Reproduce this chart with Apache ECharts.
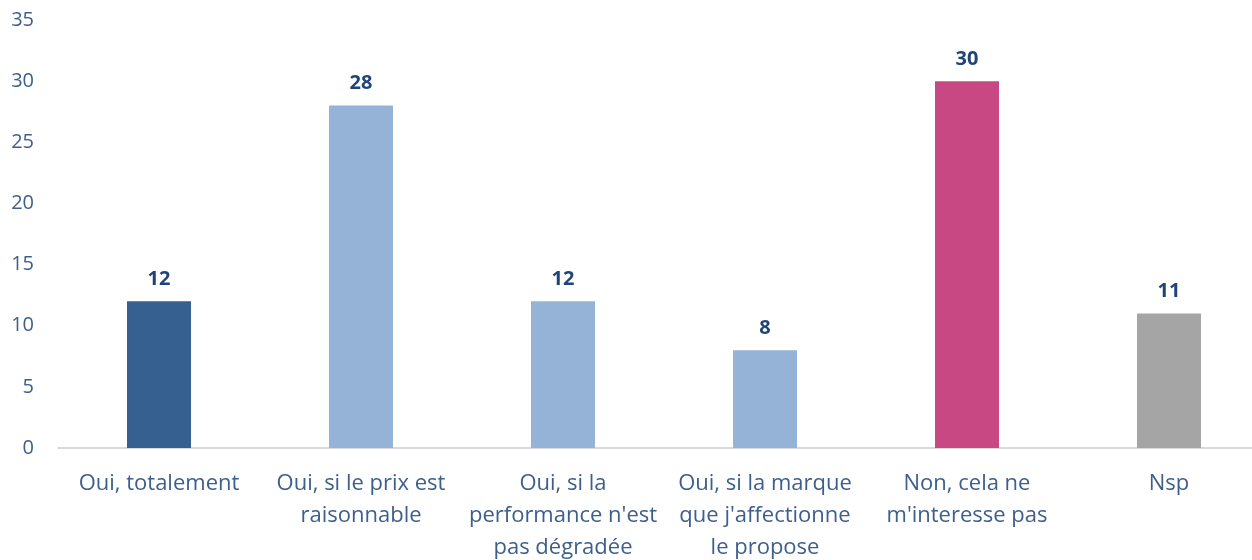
<!DOCTYPE html>
<html>
<head>
<meta charset="utf-8">
<script src="https://cdn.jsdelivr.net/npm/echarts@6/dist/echarts.min.js"></script>
<style>
  html, body { margin: 0; padding: 0; background: #ffffff; }
  #chart { width: 1252px; height: 560px; }
</style>
</head>
<body>
<div id="chart"></div>
<script>
// Answer categories (line breaks as shown under the axis)
const categories = [
  "Oui, totalement",
  "Oui, si le prix est\nraisonnable",
  "Oui, si la\nperformance n'est\npas dégradée",
  "Oui, si la marque\nque j'affectionne\nle propose",
  "Non, cela ne\nm'interesse pas",
  "Nsp"
];
// Share of respondents (%)
const values = [12, 28, 12, 8, 30, 11];
// Bar fill per category
const barColors = ["#36608f", "#95b3d7", "#95b3d7", "#95b3d7", "#c84883", "#a5a5a5"];
// Value axis ticks
const yTicks = [0, 5, 10, 15, 20, 25, 30, 35];

const FONT = "'Open Sans', 'Noto Sans', sans-serif";
const chart = echarts.init(document.getElementById('chart'));
chart.setOption({
  animation: false,
  grid: {
    left: 58, top: 20, width: 1212, height: 428,
    containLabel: false, outerBoundsMode: 'none'
  },
  xAxis: {
    type: 'category',
    data: categories,
    axisLine: { show: true, lineStyle: { color: '#d9d9d9', width: 2 } },
    axisTick: { show: false },
    axisLabel: {
      interval: 0,
      margin: 20,
      color: '#3d5f8c',
      fontFamily: FONT,
      fontSize: 22,
      lineHeight: 32
    }
  },
  yAxis: {
    type: 'value',
    min: yTicks[0],
    max: yTicks[yTicks.length - 1],
    interval: 5,
    splitLine: { show: false },
    axisLine: { show: false },
    axisTick: { show: false },
    axisLabel: {
      margin: 24,
      color: '#3d5f8c',
      fontFamily: FONT,
      fontSize: 20
    }
  },
  series: [{
    type: 'bar',
    barWidth: 64,
    data: values.map((v, i) => ({ value: v, itemStyle: { color: barColors[i] } })),
    label: {
      show: true,
      position: 'top',
      distance: 12,
      color: '#1f4478',
      fontFamily: FONT,
      fontWeight: 'bold',
      fontSize: 20
    }
  }]
});
</script>
</body>
</html>
